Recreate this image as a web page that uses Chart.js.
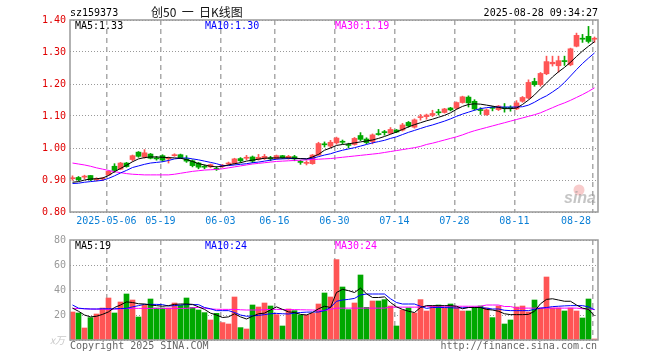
<!DOCTYPE html>
<html>
<head>
<meta charset="utf-8">
<script src="https://cdn.jsdelivr.net/npm/chart.js@4.4.1/dist/chart.umd.min.js"></script>
<style>
html, body { margin: 0; padding: 0; background: #fff; }
#wrap { position: relative; width: 660px; height: 360px; }
#wrap canvas { position: absolute; left: 0; top: 0; }
</style>
</head>
<body>
<div id="wrap">
  <canvas id="kline" width="660" height="360"></canvas>
  <canvas id="vol" width="660" height="360"></canvas>
</div>
<script>
// trading days shown
const dates = [
  '2025-04-23','2025-04-24','2025-04-25','2025-04-28','2025-04-29','2025-04-30',
  '2025-05-06','2025-05-07','2025-05-08','2025-05-09','2025-05-12','2025-05-13','2025-05-14','2025-05-15','2025-05-16',
  '2025-05-19','2025-05-20','2025-05-21','2025-05-22','2025-05-23','2025-05-26','2025-05-27','2025-05-28','2025-05-29','2025-05-30',
  '2025-06-03','2025-06-04','2025-06-05','2025-06-06','2025-06-09','2025-06-10','2025-06-11','2025-06-12','2025-06-13',
  '2025-06-16','2025-06-17','2025-06-18','2025-06-19','2025-06-20','2025-06-23','2025-06-24','2025-06-25','2025-06-26','2025-06-27',
  '2025-06-30','2025-07-01','2025-07-02','2025-07-03','2025-07-04','2025-07-07','2025-07-08','2025-07-09','2025-07-10','2025-07-11',
  '2025-07-14','2025-07-15','2025-07-16','2025-07-17','2025-07-18','2025-07-21','2025-07-22','2025-07-23','2025-07-24','2025-07-25',
  '2025-07-28','2025-07-29','2025-07-30','2025-07-31','2025-08-01','2025-08-04','2025-08-05','2025-08-06','2025-08-07','2025-08-08',
  '2025-08-11','2025-08-12','2025-08-13','2025-08-14','2025-08-15','2025-08-18','2025-08-19','2025-08-20','2025-08-21','2025-08-22',
  '2025-08-25','2025-08-26','2025-08-27','2025-08-28'
];

const openP = [
  .904,.908,.909,.914,.901,.903,.916,.943,.934,.953,
  .964,.987,.972,.981,.968,.976,.966,.976,.979,.966,
  .960,.953,.942,.941,.935,.943,.950,.952,.967,.968,
  .972,.965,.967,.968,.967,.976,.968,.973,.957,.952,
  .951,.978,1.012,1.006,1.016,1.020,1.010,1.011,1.039,1.028,
  1.020,1.044,1.050,1.046,1.056,1.056,1.080,1.065,1.095,1.098,
  1.102,1.112,1.111,1.125,1.124,1.142,1.159,1.146,1.119,1.104,
  1.126,1.120,1.126,1.126,1.122,1.146,1.156,1.208,1.198,1.232,
  1.263,1.257,1.272,1.260,1.318,1.342,1.349,1.340
];
const highP = [
  .913,.911,.915,.914,.907,.908,.929,.951,.955,.955,
  .978,.989,.995,.983,.974,.979,.972,.982,.981,.976,
  .963,.955,.947,.950,.942,.949,.956,.968,.970,.977,
  .975,.980,.980,.974,.978,.977,.977,.977,.962,.960,
  .980,1.018,1.019,1.024,1.034,1.025,1.015,1.033,1.048,1.032,
  1.044,1.058,1.055,1.064,1.058,1.077,1.083,1.091,1.105,1.106,
  1.118,1.121,1.124,1.127,1.144,1.162,1.163,1.151,1.126,1.122,
  1.130,1.133,1.139,1.132,1.148,1.161,1.213,1.218,1.236,1.287,
  1.287,1.287,1.287,1.312,1.359,1.355,1.380,1.347
];
const lowP = [
  .899,.897,.904,.898,.897,.898,.914,.924,.932,.940,
  .959,.971,.968,.966,.962,.958,.953,.974,.967,.955,
  .941,.935,.935,.938,.930,.939,.946,.949,.955,.963,
  .954,.962,.964,.960,.965,.967,.965,.960,.949,.947,
  .949,.977,1.003,1.001,1.012,1.013,1.000,1.009,1.023,1.013,
  1.013,1.040,1.040,1.044,1.048,1.053,1.065,1.062,1.087,1.090,
  1.098,1.103,1.109,1.116,1.121,1.140,1.128,1.118,1.105,1.102,
  1.116,1.117,1.112,1.115,1.120,1.143,1.153,1.193,1.193,1.229,
  1.256,1.237,1.258,1.257,1.316,1.330,1.328,1.330
];
const closeP = [
  .907,.901,.911,.901,.903,.905,.927,.930,.953,.942,
  .976,.974,.985,.968,.966,.962,.968,.978,.969,.959,
  .945,.940,.940,.948,.933,.945,.952,.966,.960,.970,
  .959,.971,.974,.966,.976,.969,.974,.966,.955,.954,
  .978,1.014,1.010,1.018,1.031,1.018,1.008,1.030,1.027,1.017,
  1.041,1.042,1.048,1.058,1.050,1.072,1.069,1.088,1.097,1.103,
  1.108,1.110,1.122,1.119,1.142,1.160,1.141,1.122,1.117,1.119,
  1.124,1.131,1.124,1.124,1.141,1.158,1.205,1.198,1.233,1.270,
  1.268,1.273,1.270,1.310,1.352,1.340,1.333,1.342
];

const ma5 = [
  .893,.895,.900,.903,.904,.906,.914,.926,.936,.946,
  .957,.966,.970,.972,.972,.971,.970,.969,.968,.964,
  .958,.951,.947,.943,.941,.943,.947,.951,.954,.959,
  .962,.965,.968,.969,.969,.969,.969,.968,.967,.966,
  .972,.980,.993,1.000,1.008,1.011,1.013,1.016,1.019,1.022,
  1.025,1.030,1.036,1.043,1.050,1.058,1.066,1.073,1.079,1.085,
  1.090,1.096,1.102,1.110,1.121,1.130,1.136,1.138,1.137,1.134,
  1.131,1.127,1.123,1.123,1.125,1.136,1.150,1.166,1.185,1.203,
  1.222,1.238,1.252,1.268,1.286,1.303,1.318,1.332
];
const ma10 = [
  .889,.890,.893,.895,.897,.899,.905,.913,.922,.930,
  .939,.944,.949,.953,.955,.957,.961,.966,.968,.969,
  .966,.963,.959,.955,.951,.945,.945,.947,.949,.951,
  .954,.956,.959,.962,.965,.966,.967,.967,.967,.966,
  .968,.973,.978,.982,.988,.993,.997,1.001,1.006,1.011,
  1.016,1.020,1.024,1.030,1.035,1.042,1.049,1.055,1.061,1.067,
  1.072,1.078,1.084,1.091,1.099,1.106,1.112,1.118,1.123,1.126,
  1.128,1.128,1.128,1.128,1.128,1.129,1.134,1.143,1.154,1.163,
  1.175,1.188,1.205,1.225,1.245,1.264,1.281,1.297
];
const ma30 = [
  .953,.950,.947,.943,.938,.934,.930,.926,.923,.920,
  .918,.917,.916,.916,.916,.916,.916,.918,.921,.924,
  .927,.929,.931,.932,.933,.935,.938,.941,.944,.947,
  .950,.952,.954,.956,.958,.959,.960,.961,.962,.963,
  .964,.965,.966,.967,.969,.971,.973,.975,.977,.979,
  .981,.983,.986,.989,.992,.995,.998,1.001,1.005,1.011,
  1.015,1.020,1.025,1.030,1.035,1.041,1.048,1.054,1.059,1.064,
  1.069,1.074,1.079,1.084,1.089,1.094,1.099,1.104,1.110,1.118,
  1.126,1.134,1.141,1.149,1.158,1.167,1.177,1.188
];

// volume, in 万
const volume = [
  22.4,21.6,9.6,17.9,20.8,25.6,33.6,21.6,30.4,36.8,
  32,18.4,28,32.8,25.6,25.6,25.6,29.6,27.7,33.6,
  26,24,21.9,16,21.3,13.9,12.8,34.4,9.9,8.8,
  28,26.4,29.6,27.2,20.3,11.2,24.8,23.5,20,20,
  21.3,28.8,37.6,34.4,64.3,42.4,24.3,29.6,52,26.1,
  31.2,31.2,32.3,27.2,11.2,24,25.6,21.6,32.3,23.2,
  27.2,28,25.6,28.8,26.1,23.2,23.2,26.4,27.2,25.6,
  17.9,27.2,12.8,16,26.4,27.2,22.4,32,25.6,50.4,
  25.6,25.6,23.2,25.6,23.2,17.6,32.8,0.8
];
const vma5 = [
  25.5,23,20,18.5,19,20.5,22.5,26,28,30.5,
  30,29,28.8,28,27.5,27,27.5,28.5,28.8,28.8,
  28.5,26.5,24.5,21.5,20,18,18.5,21,18.5,16.8,
  19,21,21.5,24,26.5,24.5,22.5,22,20.5,20,
  22,25,27,26,38,40.5,39.5,38,41.5,37,
  34,34,34.5,30,26.5,24.5,23,22,26,27.5,
  27.5,27.5,27.5,27.5,27,25,26,26,26,24.5,
  24,23,21,20.3,20.3,20.3,20.5,23,29,32.5,
  33,32,31,31,28,25.5,24.5,19.2
];
const vma10 = [
  28,25.5,25,24.8,24.8,25,25,25,25.2,25.3,
  26.5,27.5,28.5,28.5,28.5,28.3,27.2,27.5,28,28.3,
  28.3,28.3,26,25,23.5,23.5,23.5,22,20,19,
  19.3,19.7,20.3,21,21.3,21,20.8,21.5,22,22.3,
  22.4,22.4,23.5,26,31,32,32.5,33.3,36,36.8,
  36.8,36.8,36.8,33,30,28.8,28.8,28.8,27,25.3,
  26,26,26,25.8,25.6,25.8,26,26,26,25.5,
  24.8,24.8,23.8,23.5,23.5,23.5,23.5,24.5,25.5,26,
  26.7,27,27.3,27.5,27.5,27.5,26.5,24.3
];
const vma30 = [
  25.3,25.2,25,24.8,24.7,24.6,24.5,24.7,24.9,25.1,
  25.3,25.3,25.3,25.3,25.3,25.3,25.3,25.3,25.3,25.3,
  25.8,26.1,25.5,24.8,24.6,24.5,24.5,24.5,24.2,24,
  24,24,24.2,24.5,24.5,24.4,24.3,24.3,24.2,24.1,
  24,23.8,23.6,24.5,25.5,25.5,25.5,25.5,25.5,25.5,
  25.5,25.5,25.5,26.3,26.3,26.3,26.3,26.3,26.3,27,
  27,27,27,27,27,27,27,27,27,28,
  28,28,26.8,26.8,25.5,25.5,25.5,25.5,25.5,25.5,
  25.5,25.5,25.5,25.5,25.5,25,24.8,24.4
];

const priceTicks = [0.80, 0.90, 1.00, 1.10, 1.20, 1.30, 1.40];
const volTicks = [0, 20, 40, 60, 80];
const tickDates = ['2025-05-06','2025-05-19','2025-06-03','2025-06-16','2025-06-30','2025-07-14','2025-07-28','2025-08-11','2025-08-28'];
const tickLabels = ['2025-05-06','05-19','06-03','06-16','06-30','07-14','07-28','08-11','08-28'];

const RED = '#ff5555';
const GREEN = '#00a800';
const MONO = '"DejaVu Sans Mono", monospace';
const gridShift = 0.35; // sina draws the date line at the left edge of the candle

const barColors = dates.map((d, i) => closeP[i] >= openP[i] ? RED : GREEN);
const tickIdx = tickDates.map(d => dates.indexOf(d));
const pts = arr => arr.map((v, i) => ({ x: i, y: v }));

function text(ctx, s, x, y, color, font, align) {
  ctx.fillStyle = color;
  ctx.font = font;
  ctx.textAlign = align || 'left';
  ctx.textBaseline = 'middle';
  ctx.fillText(s, x, y);
}

function xAxis() {
  return {
    type: 'linear',
    bounds: 'data',
    offset: false,
    min: -0.4167,
    max: dates.length - 1 + 0.583,
    afterBuildTicks: s => { s.ticks = tickIdx.map(v => ({ value: v - gridShift })); },
    afterFit: s => { s.height = 0; },
    ticks: { display: false },
    grid: { offset: false, color: '#aaaaaa', lineWidth: 1.5, drawTicks: false },
    border: { display: false, dash: [5, 4] }
  };
}

function yAxis(ticks) {
  return {
    type: 'linear',
    min: ticks[0],
    max: ticks[ticks.length - 1],
    afterBuildTicks: s => { s.ticks = ticks.map(v => ({ value: v })); },
    afterFit: s => { s.width = 0; },
    ticks: { display: false },
    grid: { color: '#999999', lineWidth: 1, drawTicks: false },
    border: { display: false, dash: [1, 2] }
  };
}

function lineSet(data, color) {
  return {
    type: 'line', data: pts(data), borderColor: color, borderWidth: 1,
    pointRadius: 0, tension: 0, order: 0
  };
}

const boxPlugin = {
  id: 'box',
  afterDraw(chart) {
    const { ctx, chartArea: a } = chart;
    ctx.save();
    ctx.strokeStyle = '#999999';
    ctx.lineWidth = 1.5;
    ctx.strokeRect(a.left, a.top, a.right - a.left, a.bottom - a.top);
    ctx.restore();
  }
};

const priceText = {
  id: 'priceText',
  afterDraw(chart) {
    const { ctx, chartArea: a, scales } = chart;
    ctx.save();
    const f = '10px ' + MONO;
    text(ctx, 'sz159373', 70, 13.5, '#000', f);
    text(ctx, '创50  一  日K线图', 151, 12.5, '#111', '12px "Noto Sans CJK SC"');
    text(ctx, '2025-08-28 09:34:27', 598, 13.5, '#000', f, 'right');
    text(ctx, 'MA5:' + ma5[ma5.length - 1].toFixed(2), 75, 26.5, '#000', f);
    text(ctx, 'MA10:' + ma10[ma10.length - 1].toFixed(2), 205, 26.5, '#0000ff', f);
    text(ctx, 'MA30:' + ma30[ma30.length - 1].toFixed(2), 335, 26.5, '#ff00ff', f);

    // price axis labels
    priceTicks.forEach(v => {
      text(ctx, v.toFixed(2), a.left - 4, scales.y.getPixelForValue(v), '#e00000', f, 'right');
    });

    // date labels, last one kept inside the frame
    ctx.font = f;
    tickIdx.forEach((idx, k) => {
      const s = tickLabels[k];
      const w = ctx.measureText(s).width;
      let x = scales.x.getPixelForValue(idx - gridShift) - w / 2;
      x = Math.min(x, a.right - 7 - w);
      text(ctx, s, x, a.bottom + 9.5, '#0a7fd6', f);
    });

    // sina watermark
    ctx.fillStyle = 'rgba(235,110,110,0.35)';
    ctx.beginPath();
    ctx.arc(579, 190, 5.5, 0, Math.PI * 2);
    ctx.fill();
    text(ctx, 'sina', 596, 199, 'rgba(150,150,150,0.55)', 'italic bold 16px "Liberation Sans"', 'right');
    ctx.restore();
  }
};

new Chart(document.getElementById('kline'), {
  type: 'bar',
  data: {
    datasets: [
      lineSet(ma5, '#000000'),
      lineSet(ma10, '#0000ff'),
      lineSet(ma30, '#ff00ff'),
      {
        data: dates.map((d, i) => ({ x: i, y: [openP[i], closeP[i]] })),
        backgroundColor: barColors, borderWidth: 0,
        barThickness: 5, minBarLength: 1, grouped: false, order: 1
      },
      {
        data: dates.map((d, i) => ({ x: i, y: [lowP[i], highP[i]] })),
        backgroundColor: barColors, borderWidth: 0,
        barThickness: 1, grouped: false, order: 2
      }
    ]
  },
  options: {
    responsive: false,
    animation: false,
    layout: { padding: { left: 70, top: 20, right: 62, bottom: 148 } },
    plugins: { legend: { display: false }, tooltip: { enabled: false } },
    scales: { x: xAxis(), y: yAxis(priceTicks) }
  },
  plugins: [boxPlugin, priceText]
});

const volText = {
  id: 'volText',
  afterDraw(chart) {
    const { ctx, chartArea: a, scales } = chart;
    ctx.save();
    const f = '10px ' + MONO;
    volTicks.forEach(v => {
      if (v === 0) {
        text(ctx, 'x万', a.left - 5, scales.y.getPixelForValue(v), '#c8c8c8', 'italic 10px "Noto Sans CJK SC"', 'right');
      } else {
        text(ctx, String(v), a.left - 4, scales.y.getPixelForValue(v), '#999999', f, 'right');
      }
    });
    text(ctx, 'MA5:' + vma5[vma5.length - 1].toFixed(0), 75, 246, '#000', f);
    text(ctx, 'MA10:' + vma10[vma10.length - 1].toFixed(0), 205, 246, '#0000ff', f);
    text(ctx, 'MA30:' + vma30[vma30.length - 1].toFixed(0), 335, 246, '#ff00ff', f);
    text(ctx, 'Copyright 2025 SINA.COM', 70, 346, '#666666', f);
    text(ctx, 'http://finance.sina.com.cn', 597, 346, '#666666', f, 'right');
    ctx.restore();
  }
};

new Chart(document.getElementById('vol'), {
  type: 'bar',
  data: {
    datasets: [
      lineSet(vma5, '#000000'),
      lineSet(vma10, '#0000ff'),
      lineSet(vma30, '#ff00ff'),
      {
        data: pts(volume),
        backgroundColor: barColors, borderWidth: 0,
        barThickness: 5, minBarLength: 1, grouped: false, order: 1
      }
    ]
  },
  options: {
    responsive: false,
    animation: false,
    layout: { padding: { left: 70, top: 240, right: 62, bottom: 20 } },
    plugins: { legend: { display: false }, tooltip: { enabled: false } },
    scales: { x: xAxis(), y: yAxis(volTicks) }
  },
  plugins: [boxPlugin, volText]
});
</script>
</body>
</html>
